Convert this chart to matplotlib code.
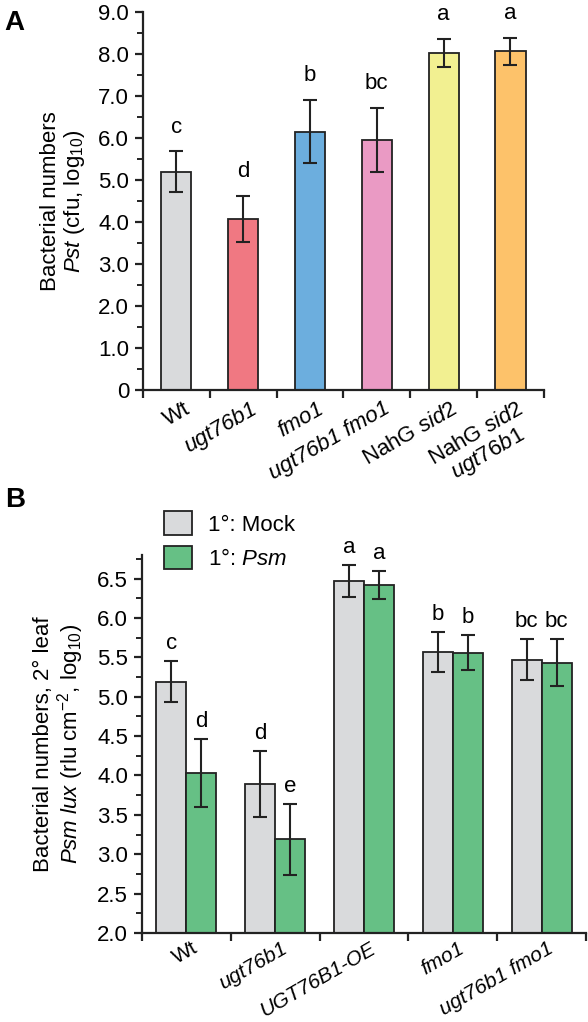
import numpy as np
import matplotlib
matplotlib.use("Agg")
import matplotlib.pyplot as plt
from matplotlib.patches import Patch
from matplotlib.ticker import MultipleLocator, FuncFormatter

plt.rcParams["font.family"] = ["Liberation Sans", "DejaVu Sans"]
plt.rcParams["mathtext.fontset"] = "custom"
plt.rcParams["mathtext.rm"] = "Liberation Sans"
plt.rcParams["mathtext.it"] = "Liberation Sans:italic"
plt.rcParams["mathtext.bf"] = "Liberation Sans:bold"

# panel A data
a_labels = ["Wt", "ugt76b1", "fmo1", "ugt76b1 fmo1", r"NahG $\mathit{sid2}$",
            "NahG $\\mathit{sid2}$\n$\\mathit{ugt76b1}$"]
a_italic = [False, True, True, True, False, False]
a_means = [5.20, 4.07, 6.15, 5.95, 8.03, 8.06]
a_err = [0.48, 0.55, 0.75, 0.76, 0.33, 0.33]
a_letters = ["c", "d", "b", "bc", "a", "a"]
a_colors = ["#d9dadc", "#f07882", "#6caede", "#ea9ac4", "#f2f091", "#fdc26a"]

# panel B data
b_labels = ["Wt", "ugt76b1", "UGT76B1-OE", "fmo1", "ugt76b1 fmo1"]
b_italic = [False, True, True, True, True]
mock_means = [5.19, 3.89, 6.47, 5.57, 5.47]
mock_err = [0.26, 0.42, 0.20, 0.25, 0.26]
psm_means = [4.03, 3.19, 6.42, 5.56, 5.43]
psm_err = [0.43, 0.45, 0.18, 0.22, 0.30]
mock_letters = ["c", "d", "a", "b", "bc"]
psm_letters = ["d", "e", "a", "b", "bc"]
mock_color = "#d9dadc"
psm_color = "#66c085"

edge = "#222222"
fs = 16

fig = plt.figure(figsize=(5.88, 10.22), dpi=100)


def style_axis(ax):
    for s in ["top", "right"]:
        ax.spines[s].set_visible(False)
    for s in ["left", "bottom"]:
        ax.spines[s].set_linewidth(1.6)
        ax.spines[s].set_color(edge)
    ax.tick_params(axis="y", which="major", direction="out", length=6, width=1.6,
                   labelsize=fs, color=edge, pad=4)
    ax.tick_params(axis="y", which="minor", direction="out", length=4, width=1.4, color=edge)
    ax.tick_params(axis="x", which="major", direction="out", length=6, width=1.6,
                   labelbottom=False, color=edge)


def xlabels(ax, xs, labels, italics, dx, size, off):
    for x, lab, it in zip(xs, labels, italics):
        ax.annotate(lab, xy=(x + dx, 0), xycoords=("data", "axes fraction"),
                    xytext=(0, off), textcoords="offset points",
                    ha="right", va="top", rotation=30, rotation_mode="anchor",
                    fontsize=size, fontstyle="italic" if it else "normal",
                    multialignment="center", linespacing=1.0)


# ---- Panel A ----
axA = fig.add_axes([0.2432, 0.6184, 0.925 - 0.2432, 0.9883 - 0.6184])
xa = np.arange(len(a_means))
axA.bar(xa, a_means, width=0.45, color=a_colors, edgecolor=edge, linewidth=1.3, zorder=2)
axA.errorbar(xa, a_means, yerr=a_err, fmt="none", ecolor=edge, elinewidth=1.5,
             capsize=5, capthick=1.5, zorder=3)
for x, m, e, l in zip(xa, a_means, a_err, a_letters):
    axA.annotate(l, xy=(x, m + e), xytext=(0, 10), textcoords="offset points",
                 ha="center", va="bottom", fontsize=fs)
axA.set_xlim(-0.5, 5.5)
axA.set_ylim(0, 9)
axA.set_xticks(np.arange(-0.5, 6, 1))
axA.yaxis.set_major_locator(MultipleLocator(1))
axA.yaxis.set_minor_locator(MultipleLocator(0.5))
axA.yaxis.set_major_formatter(FuncFormatter(lambda v, p: "0" if v == 0 else f"{v:.1f}"))
style_axis(axA)
xlabels(axA, xa, a_labels, a_italic, 0.1, fs, -6)
axA.set_ylabel("Bacterial numbers\n$\\mathit{Pst}$ (cfu, log$_{10}$)", fontsize=fs,
               linespacing=1.05, labelpad=8)
fig.text(0.008, 0.99, "A", fontsize=20, fontweight="bold", va="top")

# ---- Panel B ----
axB = fig.add_axes([0.2415, 0.0871, 0.9966 - 0.2415, 0.457 - 0.0871])
xb = np.arange(len(mock_means))
w = 0.338
axB.bar(xb - w / 2, mock_means, width=w, color=mock_color, edgecolor=edge, linewidth=1.3, zorder=2)
axB.bar(xb + w / 2, psm_means, width=w, color=psm_color, edgecolor=edge, linewidth=1.3, zorder=2)
axB.errorbar(xb - w / 2, mock_means, yerr=mock_err, fmt="none", ecolor=edge, elinewidth=1.5,
             capsize=5, capthick=1.5, zorder=3)
axB.errorbar(xb + w / 2, psm_means, yerr=psm_err, fmt="none", ecolor=edge, elinewidth=1.5,
             capsize=5, capthick=1.5, zorder=3)
for x, m, e, l in zip(xb - w / 2, mock_means, mock_err, mock_letters):
    axB.annotate(l, xy=(x, m + e), xytext=(0, 5), textcoords="offset points",
                 ha="center", va="bottom", fontsize=fs)
for x, m, e, l in zip(xb + w / 2, psm_means, psm_err, psm_letters):
    axB.annotate(l, xy=(x, m + e), xytext=(0, 5), textcoords="offset points",
                 ha="center", va="bottom", fontsize=fs)
axB.set_xlim(-0.5, 4.5)
axB.set_ylim(2.0, 6.8)
axB.set_xticks(np.arange(-0.5, 5, 1))
axB.yaxis.set_major_locator(MultipleLocator(0.5))
axB.yaxis.set_minor_locator(MultipleLocator(0.25))
axB.yaxis.set_major_formatter(FuncFormatter(lambda v, p: f"{v:.1f}"))
style_axis(axB)
xlabels(axB, xb, b_labels, b_italic, 0.06, 15, -4)
axB.set_ylabel("Bacterial numbers, 2\u00b0 leaf\n$\\mathit{Psm\\ lux}$ (rlu cm$^{-2}$, log$_{10}$)",
               fontsize=fs, linespacing=1.05, labelpad=8)
fig.text(0.008, 0.523, "B", fontsize=20, fontweight="bold", va="top")

handles = [Patch(facecolor=mock_color, edgecolor=edge, linewidth=1.3),
           Patch(facecolor=psm_color, edgecolor=edge, linewidth=1.3)]
axB.legend(handles, ["1\u00b0: Mock", "1\u00b0: $\\mathit{Psm}$"], loc="upper left",
           bbox_to_anchor=(0.05, 1.115), frameon=False, fontsize=fs,
           handlelength=1.25, handleheight=1.25, borderpad=0, borderaxespad=0,
           labelspacing=0.45, handletextpad=0.7)

fig.savefig("out.png", dpi=100)
